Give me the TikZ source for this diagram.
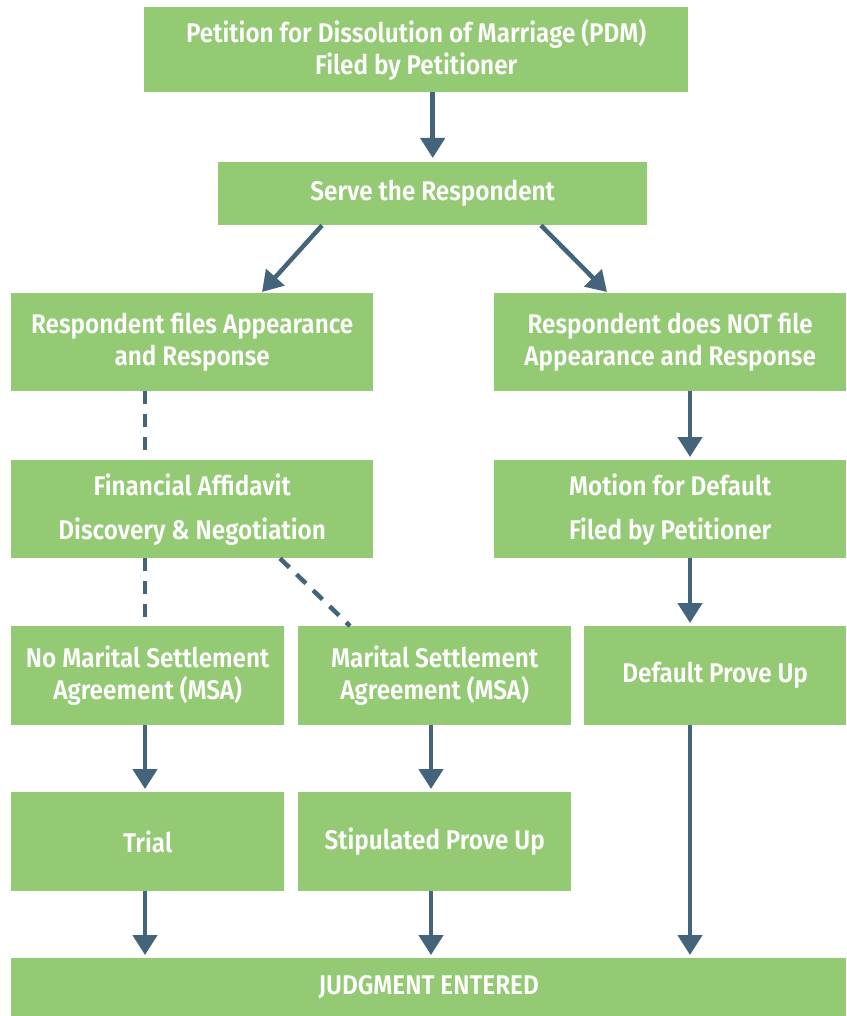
\documentclass[tikz,border=0pt]{standalone}
\usepackage{fontspec}
\setmainfont{Fira Sans}[FakeStretch=0.9, BoldFont={Fira Sans SemiBold}]
\usetikzlibrary{arrows.meta,calc}
\definecolor{boxgreen}{HTML}{94CA73}
\definecolor{arrowblue}{HTML}{43647A}
\begin{document}
\begin{tikzpicture}[x=1pt,y=-1pt,
 box/.style={fill=boxgreen, draw=none, anchor=north west, inner sep=0pt, text=white, align=center, font=\fontsize{27}{32}\selectfont\bfseries},
 arr/.style={draw=arrowblue, line width=4.5pt, -{Triangle[width=24pt,length=20pt]}},
 dsh/.style={draw=arrowblue, line width=4.5pt, dash pattern=on 13pt off 10pt}]
\fill[white] (0,0) rectangle (846,1016);
\useasboundingbox (0,0) rectangle (846,1016);
\node[box, minimum width=544pt, minimum height=85pt] (b1) at (144,7) {Petition for Dissolution of Marriage (PDM)\\Filed by Petitioner};
\node[box, minimum width=429pt, minimum height=63pt] (b2) at (218,162) {Serve the Respondent};
\node[box, minimum width=362pt, minimum height=98pt] (b3) at (11,293) {Respondent files Appearance\\and Response};
\node[box, minimum width=352pt, minimum height=98pt] (b4) at (494,293) {Respondent does NOT file\\Appearance and Response};
\node[box, minimum width=362pt, minimum height=98pt] (b5) at (11,460) {Financial Affidavit\\[12pt]Discovery \& Negotiation};
\node[box, minimum width=352pt, minimum height=98pt] (b6) at (494,460) {Motion for Default\\[12pt]Filed by Petitioner};
\node[box, minimum width=273pt, minimum height=99pt] (b7) at (11,626) {No Marital Settlement\\Agreement (MSA)};
\node[box, minimum width=273pt, minimum height=99pt] (b8) at (298,626) {Marital Settlement\\Agreement (MSA)};
\node[box, minimum width=262pt, minimum height=99pt] (b9) at (584,626) {Default Prove Up};
\node[box, minimum width=273pt, minimum height=99pt] (b10) at (11,792) {Trial};
\node[box, minimum width=273pt, minimum height=99pt] (b11) at (298,792) {Stipulated Prove Up};
\node[box, minimum width=835pt, minimum height=58pt] (b12) at (11,958) {JUDGMENT ENTERED};
\draw[arr] (b1.south -| b2.north) -- ($(b2.north)+(0,-4)$);
\draw[arr] ($(b2.south west)+(104,0)$) -- ($(b3.north west)+(251,-1)$);
\draw[arr] ($(b2.south west)+(323,0)$) -- ($(b4.north west)+(113,-1)$);
\draw[dsh] ($(b3.south west)+(134,0)$) -- ($(b5.north west)+(134,0)$);
\draw[dsh] ($(b5.south west)+(134,0)$) -- ($(b7.north west)+(134,0)$);
\draw[dsh] ($(b5.south west)+(269,0)$) -- ($(b8.north west)+(52,0)$);
\draw[arr] ($(b4.south west)+(196,0)$) -- ($(b6.north west)+(196,-3)$);
\draw[arr] ($(b6.south west)+(196,0)$) -- ($(b9.north west)+(106,-3)$);
\draw[arr] ($(b7.south west)+(134,0)$) -- ($(b10.north west)+(134,-3)$);
\draw[arr] ($(b8.south west)+(133,0)$) -- ($(b11.north west)+(133,-3)$);
\draw[arr] ($(b10.south west)+(134,0)$) -- ($(b12.north west)+(134,-3)$);
\draw[arr] ($(b11.south west)+(133,0)$) -- ($(b12.north west)+(420,-3)$);
\draw[arr] ($(b9.south west)+(106,0)$) -- ($(b12.north west)+(679,-3)$);
\end{tikzpicture}
\end{document}
